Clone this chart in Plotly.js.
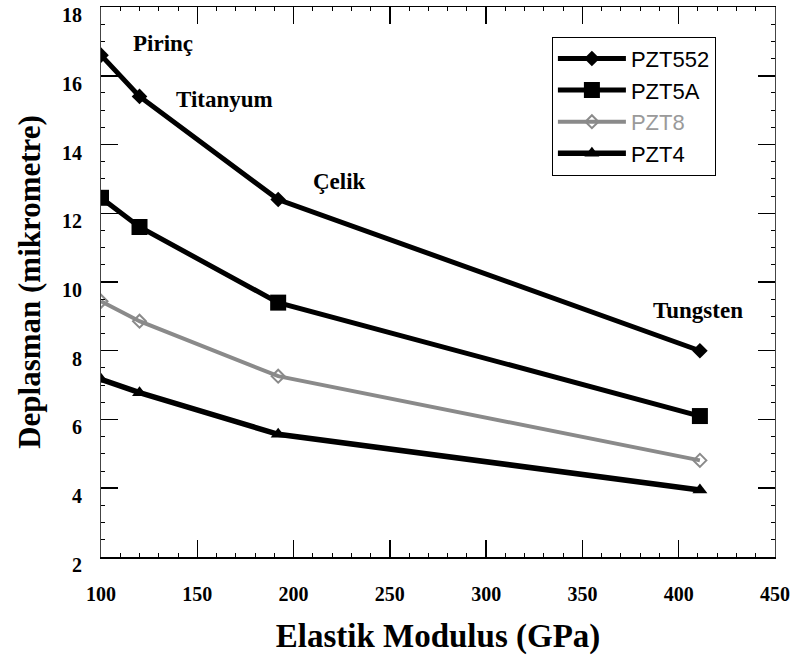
<!DOCTYPE html>
<html>
<head>
<meta charset="utf-8">
<script src="https://cdn.plot.ly/plotly-3.0.1.min.js"></script>
<style>html,body{margin:0;padding:0;background:#fff;}#chart{width:797px;height:660px;}</style>
</head>
<body>
<div id="chart"></div>
<script>
// Elastic modulus of the host materials (GPa)
const materials = ["Pirinç", "Titanyum", "Çelik", "Tungsten"];
const modulus = [100, 120, 192, 411];

// Displacement (micrometre) per piezo material
const seriesNames = ["PZT552", "PZT5A", "PZT8", "PZT4"];
const pzt552 = [16.6, 15.4, 12.4, 8.0];
const pzt5a = [12.45, 11.6, 9.4, 6.1];
const pzt8 = [9.44, 8.86, 7.26, 4.81];
const pzt4 = [7.17, 6.78, 5.57, 3.95];

// Label anchor positions for material names (data units)
const labelX = [132, 164, 224, 410];
const labelY = [16.93, 15.31, 12.92, 9.17];

const xTicks = [100, 150, 200, 250, 300, 350, 400, 450];
const yTicks = [2, 4, 6, 8, 10, 12, 14, 16, 18];

const serif = "Liberation Serif, Times New Roman, serif";
const sans = "Liberation Sans, Arial, sans-serif";

const traces = [
  {x: modulus, y: pzt552, name: seriesNames[0], mode: "lines+markers",
   line: {color: "#000", width: 5}, marker: {symbol: "diamond", size: 12, color: "#000"}},
  {x: modulus, y: pzt5a, name: seriesNames[1], mode: "lines+markers",
   line: {color: "#000", width: 5}, marker: {symbol: "square", size: 16, color: "#000"}},
  {x: modulus, y: pzt8, name: '<span style="color:#9a9a9a">' + seriesNames[2] + '</span>', mode: "lines+markers",
   line: {color: "#8a8a8a", width: 4}, marker: {symbol: "diamond-open", size: 10, color: "#8a8a8a", line: {width: 2}}},
  {x: modulus, y: pzt4, name: seriesNames[3], mode: "lines+markers",
   line: {color: "#000", width: 5.5}, marker: {symbol: "triangle-up", size: 13, color: "#000"}}
];

const annotations = materials.map((m, i) => ({
  x: labelX[i], y: labelY[i], xref: "x", yref: "y", text: "<b>" + m + "</b>",
  showarrow: false, font: {family: serif, size: 23, color: "#000"}
}));

const axisCommon = {
  showgrid: false, zeroline: false, showline: true, mirror: "ticks",
  linecolor: "#000", linewidth: 1.5, ticks: "inside", ticklen: 17, tickwidth: 1.5,
  tickcolor: "#000", ticklabeloverflow: "allow",
  tickfont: {family: serif, size: 20, color: "#000", weight: "bold"}
};

const layout = {
  width: 797, height: 660,
  margin: {l: 101, r: 22, t: 7, b: 103},
  paper_bgcolor: "#fff", plot_bgcolor: "#fff",
  showlegend: true,
  legend: {
    x: 0.669, y: 0.946, xanchor: "left", yanchor: "top",
    bgcolor: "#fff", bordercolor: "#000", borderwidth: 1,
    font: {family: sans, size: 22, color: "#000"},
    itemwidth: 68, tracegroupgap: 0
  },
  xaxis: Object.assign({}, axisCommon, {
    range: [100, 450], tickvals: xTicks, ticklabelstandoff: 18,
    minor: {dtick: 10, ticks: "inside", ticklen: 4, tickcolor: "#000", tickwidth: 1},
    title: {text: "<b>Elastik Modulus (GPa)</b>", font: {family: serif, size: 33, color: "#000"}, standoff: 20}
  }),
  yaxis: Object.assign({}, axisCommon, {
    range: [1.999, 18.001], tickvals: yTicks, ticklabelstandoff: 14, ticklabelshift: 8,
    linecolor: "#444", linewidth: 1,
    minor: {dtick: 0.5, ticks: "inside", ticklen: 4, tickcolor: "#000", tickwidth: 1},
    title: {text: "<b>Deplasman (mikrometre)</b>", font: {family: serif, size: 31, color: "#000"}, standoff: 12}
  }),
  annotations: annotations
};

Plotly.newPlot("chart", traces, layout, {displayModeBar: false, staticPlot: true});
</script>
</body>
</html>
